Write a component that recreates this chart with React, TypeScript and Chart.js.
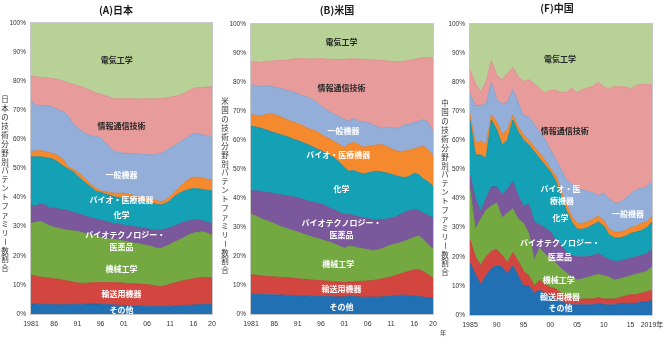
import React, { useEffect, useRef } from "react";
import { Chart, registerables } from "chart.js";
Chart.register(...registerables);

// Layers, bottom to top
const FIELDS = ["その他", "輸送用機器", "機械工学", "バイオテクノロジー・医薬品", "化学", "バイオ・医療機器", "一般機器", "情報通信技術", "電気工学"];
const FILLS = ["#2270b4", "#d2463f", "#74a942", "#7b589c", "#14a0b5", "#f5892e", "#93aed8", "#e79b9a", "#b7d196"];
const LINES = ["#1d5f9a", "#b83b35", "#64953a", "#6a4b88", "#10899b", "#e07820", "#7f9bc6", "#d98a89", "#8fb86b"];

// ---------- (A) Japan: cumulative upper boundary of each layer (%) ----------
const jpYears = [1981, 1982, 1983, 1984, 1985, 1986, 1987, 1988, 1989, 1990, 1991, 1992, 1993, 1994, 1995, 1996, 1997, 1998, 1999, 2000, 2001, 2002, 2003, 2004, 2005, 2006, 2007, 2008, 2009, 2010, 2011, 2012, 2013, 2014, 2015, 2016, 2017, 2018, 2019, 2020];
const jpOther = [3.4, 3.4, 3.3, 3.3, 3.3, 3.2, 3.2, 3.2, 3.2, 3.3, 3.3, 3.3, 3.4, 3.4, 3.4, 3.4, 3.3, 3.2, 3.1, 3.0, 2.9, 2.9, 2.8, 2.8, 2.7, 2.7, 2.7, 2.6, 2.6, 2.6, 2.7, 2.8, 2.9, 3.0, 3.0, 3.1, 3.2, 3.2, 3.3, 3.3];
const jpTransport = [13.4, 13.0, 12.7, 12.5, 12.3, 12.1, 11.9, 11.6, 11.3, 11.0, 10.7, 10.5, 10.6, 10.7, 10.8, 10.8, 10.8, 10.8, 10.8, 10.7, 10.6, 10.5, 10.4, 10.3, 10.2, 10.1, 9.9, 9.6, 9.4, 9.7, 10.3, 10.7, 11.1, 11.5, 11.8, 12.1, 12.4, 12.6, 12.5, 12.3];
const jpMechanical = [31.2, 31.5, 31.8, 31.2, 30.3, 29.8, 29.5, 29.0, 28.8, 28.6, 28.4, 28.0, 27.6, 27.2, 26.8, 26.4, 26.0, 25.8, 25.6, 25.4, 25.1, 24.8, 24.5, 24.2, 23.9, 23.6, 23.2, 22.7, 22.6, 23.2, 24.0, 24.8, 25.5, 26.3, 27.2, 27.8, 28.1, 28.3, 27.8, 27.1];
const jpPharma = [37.5, 37.0, 37.8, 37.5, 36.5, 36.5, 36.0, 35.8, 35.5, 35.0, 34.5, 34.0, 33.5, 33.0, 32.6, 32.3, 31.8, 31.4, 31.0, 30.8, 30.5, 30.3, 30.1, 29.8, 29.6, 29.3, 29.0, 28.7, 28.8, 29.2, 29.7, 30.3, 31.0, 31.6, 32.0, 32.3, 32.4, 32.0, 31.5, 31.0];
const jpChemistry = [54.0, 54.0, 54.0, 53.8, 53.5, 53.0, 52.0, 50.8, 49.8, 49.0, 47.5, 46.0, 44.8, 43.5, 42.2, 41.8, 41.2, 40.8, 40.3, 40.0, 39.8, 39.6, 39.5, 39.2, 38.9, 38.6, 38.2, 37.7, 37.5, 38.0, 39.0, 40.5, 41.5, 42.3, 42.8, 43.1, 43.0, 42.8, 42.5, 42.3];
const jpMedTech = [55.8, 56.0, 56.2, 55.8, 55.4, 55.0, 54.2, 53.0, 50.5, 49.8, 48.8, 47.5, 46.0, 44.5, 43.2, 42.4, 42.0, 41.7, 41.5, 41.5, 41.5, 41.2, 40.8, 40.4, 40.0, 39.6, 39.3, 39.0, 38.6, 39.2, 40.5, 42.0, 43.5, 45.0, 46.3, 47.0, 47.0, 46.7, 46.3, 45.9];
const jpGeneral = [73.5, 71.8, 71.6, 71.5, 71.5, 70.8, 70.0, 69.5, 68.0, 65.5, 64.0, 62.7, 61.8, 61.2, 61.0, 60.5, 59.0, 57.5, 55.8, 55.5, 55.2, 55.2, 55.0, 55.0, 54.8, 54.8, 54.6, 54.8, 55.2, 56.0, 57.0, 58.0, 59.0, 60.0, 61.0, 62.0, 62.0, 61.5, 61.2, 61.0];
const jpICT = [81.8, 81.5, 81.3, 81.2, 81.0, 80.8, 80.5, 80.0, 79.5, 79.0, 78.5, 78.0, 77.3, 76.7, 76.0, 75.5, 75.0, 74.5, 74.0, 74.0, 73.9, 74.0, 74.0, 73.8, 74.0, 74.0, 73.9, 74.0, 74.0, 74.2, 74.5, 74.8, 75.2, 75.8, 76.7, 77.5, 77.8, 77.8, 78.0, 78.0];
const jpElectrical = [100, 100, 100, 100, 100, 100, 100, 100, 100, 100, 100, 100, 100, 100, 100, 100, 100, 100, 100, 100, 100, 100, 100, 100, 100, 100, 100, 100, 100, 100, 100, 100, 100, 100, 100, 100, 100, 100, 100, 100];

// ---------- (B) United States ----------
const usYears = [1981, 1982, 1983, 1984, 1985, 1986, 1987, 1988, 1989, 1990, 1991, 1992, 1993, 1994, 1995, 1996, 1997, 1998, 1999, 2000, 2001, 2002, 2003, 2004, 2005, 2006, 2007, 2008, 2009, 2010, 2011, 2012, 2013, 2014, 2015, 2016, 2017, 2018, 2019, 2020];
const usOther = [6.8, 6.8, 6.7, 6.7, 6.6, 6.6, 6.6, 6.5, 6.5, 6.4, 6.3, 6.3, 6.2, 6.1, 6.1, 6.0, 6.0, 6.0, 5.9, 5.9, 5.9, 6.1, 6.0, 5.9, 5.8, 5.8, 5.8, 5.8, 5.9, 6.0, 6.1, 6.3, 6.5, 6.5, 6.3, 6.2, 6.0, 5.8, 5.6, 5.4];
const usTransport = [13.5, 13.4, 13.2, 13.0, 12.9, 12.8, 12.7, 12.6, 12.5, 12.3, 12.2, 12.0, 11.9, 11.7, 11.6, 11.5, 11.4, 11.3, 11.1, 11.0, 10.9, 11.0, 11.1, 11.2, 11.3, 11.4, 11.5, 11.8, 12.1, 12.4, 12.8, 13.3, 13.8, 14.3, 14.8, 15.2, 15.2, 14.6, 13.5, 12.4];
const usMechanical = [34.5, 33.8, 33.0, 32.4, 31.8, 31.2, 30.4, 29.8, 29.3, 28.8, 28.3, 27.7, 27.2, 26.6, 26.2, 25.7, 25.2, 24.7, 24.1, 23.4, 22.7, 23.4, 23.2, 22.8, 22.5, 22.2, 21.9, 22.1, 22.5, 23.2, 23.8, 24.2, 24.6, 25.2, 25.8, 26.5, 26.9, 25.5, 23.8, 22.4];
const usPharma = [42.4, 42.5, 42.3, 42.0, 41.8, 41.5, 41.2, 40.9, 40.6, 40.4, 40.1, 39.6, 39.1, 38.6, 38.3, 37.9, 37.3, 36.5, 35.8, 35.0, 34.3, 34.3, 34.0, 33.6, 33.1, 32.9, 32.6, 32.6, 32.6, 32.7, 33.0, 33.5, 34.3, 35.0, 35.7, 36.0, 35.6, 34.8, 34.0, 33.1];
const usChemistry = [64.7, 64.5, 64.1, 63.6, 63.0, 62.5, 62.0, 61.5, 61.0, 60.3, 59.8, 59.2, 58.5, 57.8, 57.0, 56.3, 55.5, 54.6, 53.6, 52.3, 50.5, 49.2, 49.5, 48.8, 48.3, 48.6, 49.0, 49.2, 49.0, 48.6, 48.2, 47.7, 47.3, 47.0, 47.5, 48.5, 48.0, 46.5, 45.5, 44.1];
const usMedTech = [68.7, 68.5, 68.2, 68.7, 69.0, 68.8, 68.2, 67.5, 66.8, 66.2, 65.7, 65.0, 64.1, 63.5, 63.0, 62.0, 61.0, 60.2, 59.3, 58.3, 57.5, 58.5, 59.2, 58.5, 57.5, 57.8, 58.0, 58.3, 58.4, 57.8, 57.0, 56.3, 56.0, 56.2, 56.5, 57.0, 57.5, 57.8, 56.5, 54.5];
const usGeneral = [79.0, 78.6, 78.5, 78.6, 78.7, 78.2, 77.9, 77.5, 77.0, 76.5, 76.0, 75.3, 74.8, 74.0, 73.2, 71.8, 70.5, 69.6, 68.8, 68.0, 67.0, 66.5, 67.5, 66.5, 66.2, 66.0, 65.4, 64.6, 64.0, 64.5, 64.2, 64.0, 64.5, 65.2, 65.5, 66.0, 66.5, 67.0, 66.0, 62.7];
const usICT = [86.8, 86.9, 86.7, 87.0, 87.1, 87.3, 87.5, 87.4, 87.6, 87.9, 88.0, 88.1, 88.0, 87.9, 88.0, 88.1, 87.9, 87.8, 87.8, 87.7, 87.8, 87.9, 88.0, 87.9, 87.8, 87.7, 87.6, 87.5, 87.4, 87.3, 87.1, 87.0, 87.0, 87.2, 87.5, 87.8, 88.1, 88.4, 88.5, 88.2];
const usElectrical = [100, 100, 100, 100, 100, 100, 100, 100, 100, 100, 100, 100, 100, 100, 100, 100, 100, 100, 100, 100, 100, 100, 100, 100, 100, 100, 100, 100, 100, 100, 100, 100, 100, 100, 100, 100, 100, 100, 100, 100];

// ---------- (F) China ----------
const cnYears = [1985, 1986, 1987, 1988, 1989, 1990, 1991, 1992, 1993, 1994, 1995, 1996, 1997, 1998, 1999, 2000, 2001, 2002, 2003, 2004, 2005, 2006, 2007, 2008, 2009, 2010, 2011, 2012, 2013, 2014, 2015, 2016, 2017, 2018, 2019];
const cnOther = [18, 14, 10.5, 13.5, 16, 17, 16.5, 14, 17, 13.5, 10, 10, 7.5, 8.5, 7.5, 6.5, 5.5, 4.5, 4, 3.5, 3.5, 3.5, 3.5, 3.5, 4, 3.5, 3.5, 3.5, 4, 4, 4, 4, 4.5, 4.5, 5];
const cnTransport = [26, 20, 17, 20, 22, 22.5, 20.5, 18, 21.5, 18.5, 15, 13.5, 10, 12, 10.5, 9.5, 9, 7.5, 6.5, 6, 5.5, 5.5, 5.5, 5.5, 6, 5.5, 5.5, 5.5, 6, 6.5, 7, 7, 7.5, 8, 8.5];
const cnMechanical = [43, 29.5, 33, 36, 37.5, 38.5, 33.5, 35, 36.5, 33, 31.5, 28, 19, 23, 21, 19.5, 18, 16, 14.5, 13, 12, 12.5, 13, 13.5, 14, 13.5, 13, 12, 12.5, 13, 13.5, 14, 14.5, 15, 16.5];
const cnPharma = [48, 40, 35.5, 40, 44, 44, 41.5, 43, 46, 41, 37.5, 38, 32, 31, 30, 28.5, 26, 24, 21.5, 20.5, 20, 20, 20, 20.5, 21, 20, 19, 18.5, 18.5, 19, 19.5, 20, 20.5, 21, 22.5];
const cnChemistry = [67, 55, 55, 53.8, 67, 63.6, 58.4, 60.1, 67, 63, 60.1, 58.4, 56.1, 53.8, 51.5, 49.3, 46, 41, 36, 32, 29.5, 29.5, 30, 31, 32, 30.5, 27.5, 26.5, 26.5, 27, 28, 28.5, 29, 30, 32];
const cnMedTech = [69, 59, 59.8, 58.5, 68.7, 66.4, 62, 63.6, 68.7, 64.7, 62, 60, 57.8, 55.6, 53.3, 50.4, 48, 43, 38, 34, 31.5, 31.5, 32, 33, 34, 32.5, 29.5, 28.5, 28.5, 29, 30, 30.5, 31.5, 32, 34];
const cnGeneral = [76, 72, 72, 72.5, 80, 74, 72.5, 73, 77.5, 73, 68.5, 68, 65.5, 63, 60.3, 56.8, 53.5, 50, 46.5, 45, 43.5, 43, 42.5, 42, 41, 42, 40, 38.5, 38.5, 40, 41.5, 43, 43.5, 44, 46];
const cnICT = [84.2, 79.6, 76.7, 80, 87.5, 82.5, 80.8, 83, 85.1, 81.9, 80.2, 80.9, 79.4, 77.9, 76.3, 77.2, 77.3, 76.5, 76.5, 78, 76.3, 77.5, 78, 78.6, 80, 78.4, 77.7, 78.6, 78.4, 78.4, 77.7, 78.9, 79.2, 79.2, 79.1];
const cnElectrical = [100, 100, 100, 100, 100, 100, 100, 100, 100, 100, 100, 100, 100, 100, 100, 100, 100, 100, 100, 100, 100, 100, 100, 100, 100, 100, 100, 100, 100, 100, 100, 100, 100, 100, 100];

// tick labels
const jpTickValues = [1981, 1986, 1991, 1996, 2001, 2006, 2011, 2016, 2020];
const jpTickLabels = ["1981", "86", "91", "96", "01", "06", "11", "16", "20"];
const cnTickValues = [1985, 1990, 1995, 2000, 2005, 2010, 2015, 2019];
const cnTickLabels = ["1985", "90", "95", "00", "05", "10", "15", "2019年"];

type Lbl = { t: string; x: number; y: number; dark?: boolean; size?: number };
interface PanelSpec {
  left: number; width: number; plotLeft: number; plotRight: number; plotTop: number; plotBottom: number;
  title: string; titleX: number; titleY: number;
  yTitle: string; yTitleX: number; yTitleCenter: number;
  years: number[]; tops: number[][]; tickValues: number[]; tickLabels: string[];
  labels: Lbl[]; extra?: { t: string; x: number; y: number }[];
}

const H = 337;
const CJK = '"Noto Sans CJK JP", "Noto Sans CJK SC", sans-serif';
const LAT = '"Liberation Sans", Arial, sans-serif';

const PANELS: PanelSpec[] = [
  {
    left: 0, width: 222, plotLeft: 31, plotRight: 212, plotTop: 23, plotBottom: 314,
    title: "(A)日本", titleX: 116, titleY: 10,
    yTitle: "日本の技術分野別パテントファミリー数割合", yTitleX: 5, yTitleCenter: 184,
    years: jpYears, tops: [jpOther, jpTransport, jpMechanical, jpPharma, jpChemistry, jpMedTech, jpGeneral, jpICT, jpElectrical],
    tickValues: jpTickValues, tickLabels: jpTickLabels,
    labels: [
      { t: "電気工学", x: 1999.5, y: 87.3, dark: true },
      { t: "情報通信技術", x: 2000.5, y: 64.6, dark: true },
      { t: "一般機器", x: 2000.5, y: 47.8 },
      { t: "バイオ・医療機器", x: 2000.5, y: 39.2 },
      { t: "化学", x: 2000.5, y: 34 },
      { t: "バイオテクノロジー・", x: 2001.3, y: 27.1 },
      { t: "医薬品", x: 2000.5, y: 22.9 },
      { t: "機械工学", x: 2000.5, y: 15.4 },
      { t: "輸送用機器", x: 2000.5, y: 6.8 },
      { t: "その他", x: 2000.5, y: 1.4 },
    ],
  },
  {
    left: 220, width: 230, plotLeft: 251, plotRight: 433, plotTop: 24, plotBottom: 314,
    title: "(B)米国", titleX: 337, titleY: 10,
    yTitle: "米国の技術分野別パテントファミリー数割合", yTitleX: 225, yTitleCenter: 186,
    years: usYears, tops: [usOther, usTransport, usMechanical, usPharma, usChemistry, usMedTech, usGeneral, usICT, usElectrical],
    tickValues: jpTickValues, tickLabels: jpTickLabels,
    labels: [
      { t: "電気工学", x: 2000.4, y: 93.7, dark: true },
      { t: "情報通信技術", x: 2000.4, y: 77.8, dark: true },
      { t: "一般機器", x: 2000.8, y: 63.2 },
      { t: "バイオ・医療機器", x: 1999.7, y: 54.8 },
      { t: "化学", x: 2000.4, y: 43.1 },
      { t: "バイオテクノロジー・", x: 2000.4, y: 31.5 },
      { t: "医薬品", x: 2000.4, y: 27.1 },
      { t: "機械工学", x: 1999.7, y: 17.1 },
      { t: "輸送用機器", x: 2000.4, y: 8.5 },
      { t: "その他", x: 2000.4, y: 2.5 },
    ],
    extra: [{ t: "年", x: 443, y: 333 }],
  },
  {
    left: 440, width: 231, plotLeft: 470, plotRight: 652, plotTop: 24, plotBottom: 315,
    title: "(F)中国", titleX: 557, titleY: 8,
    yTitle: "中国の技術分野別パテントファミリー数割合", yTitleX: 445, yTitleCenter: 188,
    years: cnYears, tops: [cnOther, cnTransport, cnMechanical, cnPharma, cnChemistry, cnMedTech, cnGeneral, cnICT, cnElectrical],
    tickValues: cnTickValues, tickLabels: cnTickLabels,
    labels: [
      { t: "電気工学", x: 2001.8, y: 88, dark: true },
      { t: "情報通信技術", x: 2002.7, y: 63.2, dark: true },
      { t: "バイオ・医", x: 2001.9, y: 43.2 },
      { t: "療機器", x: 2002.2, y: 39.2 },
      { t: "化学", x: 2001.9, y: 33.2 },
      { t: "一般機器", x: 2014.5, y: 34.7 },
      { t: "バイオテクノロジー・", x: 2001.8, y: 24.6 },
      { t: "医薬品", x: 2001.8, y: 20 },
      { t: "機械工学", x: 2001.6, y: 12 },
      { t: "輸送用機器", x: 2001.8, y: 6.3 },
      { t: "その他", x: 2001.9, y: 2.5 },
    ],
  },
];

function Panel({ spec }: { spec: PanelSpec }) {
  const ref = useRef<HTMLCanvasElement>(null);
  useEffect(() => {
    const s = spec;
    const datasets = s.tops.map((arr, i) => ({
      label: FIELDS[i],
      data: arr.map((v, j) => ({ x: s.years[j], y: v })),
      backgroundColor: FILLS[i],
      borderColor: LINES[i],
      borderWidth: i === s.tops.length - 1 ? 0 : 0.8,
      pointRadius: 0,
      tension: 0,
      fill: i === 0 ? "origin" : "-1",
    }));
    const decor = {
      id: "decor",
      afterDatasetsDraw(chart: any) {
        const ctx = chart.ctx;
        const xs = chart.scales.x;
        const ys = chart.scales.y;
        const a = chart.chartArea;
        ctx.save();
        ctx.strokeStyle = "#c8c8c8";
        ctx.lineWidth = 1;
        ctx.strokeRect(a.left - 0.5, a.top - 0.5, a.right - a.left + 1, a.bottom - a.top + 1);
        ctx.textAlign = "center";
        ctx.textBaseline = "middle";
        for (const l of s.labels) {
          ctx.font = `bold ${l.size ?? 8}px ${CJK}`;
          ctx.fillStyle = l.dark ? "#262626" : "#ffffff";
          ctx.fillText(l.t, xs.getPixelForValue(l.x), ys.getPixelForValue(l.y));
        }
        ctx.restore();
      },
      afterDraw(chart: any) {
        const ctx = chart.ctx;
        ctx.save();
        ctx.textAlign = "center";
        ctx.textBaseline = "middle";
        ctx.fillStyle = "#1a1a1a";
        ctx.font = `bold 10px ${CJK}`;
        ctx.fillText(s.title, s.titleX - s.left, s.titleY);
        ctx.fillStyle = "#333333";
        ctx.font = `7.5px ${CJK}`;
        const chars = Array.from(s.yTitle);
        const step = 8.9;
        const y0 = s.yTitleCenter - ((chars.length - 1) * step) / 2;
        chars.forEach((c, i) => {
          const x = s.yTitleX - s.left;
          const y = y0 + i * step;
          if (c === "ー") {
            ctx.save();
            ctx.translate(x, y);
            ctx.rotate(Math.PI / 2);
            ctx.fillText(c, 0, 0);
            ctx.restore();
          } else {
            ctx.fillText(c, x, y);
          }
        });
        if (s.extra) {
          ctx.font = `6px ${CJK}`;
          for (const e of s.extra) ctx.fillText(e.t, e.x - s.left, e.y);
        }
        ctx.restore();
      },
    };
    const chart = new Chart(ref.current as HTMLCanvasElement, {
      type: "line",
      data: { datasets: datasets as any },
      options: {
        animation: false,
        responsive: false,
        devicePixelRatio: 1,
        layout: { padding: { left: 0, right: s.left + s.width - s.plotRight, top: s.plotTop, bottom: 0 } },
        plugins: { legend: { display: false }, tooltip: { enabled: false }, title: { display: false } },
        scales: {
          x: {
            type: "linear",
            min: s.years[0],
            max: s.years[s.years.length - 1],
            grid: { display: false, drawTicks: false },
            border: { display: false },
            afterBuildTicks: (sc: any) => {
              sc.ticks = s.tickValues.map((v) => ({ value: v }));
            },
            afterFit: (sc: any) => {
              sc.height = H - s.plotBottom;
            },
            ticks: {
              autoSkip: false,
              maxRotation: 0,
              padding: 6,
              color: "#333",
              font: { size: 7, family: `${LAT}, ${CJK}` },
              callback: (v: any) => {
                const i = s.tickValues.indexOf(Number(v));
                return i >= 0 ? s.tickLabels[i] : "";
              },
            },
          },
          y: {
            min: 0,
            max: 100,
            grid: { display: false, drawTicks: false },
            border: { display: false },
            afterFit: (sc: any) => {
              sc.width = s.plotLeft - s.left;
            },
            ticks: {
              stepSize: 10,
              padding: 5,
              color: "#333",
              font: { size: 6.5, family: LAT },
              callback: (v: any) => `${v}%`,
            },
          },
        },
      } as any,
      plugins: [decor],
    });
    return () => chart.destroy();
  }, [spec]);
  return (
    <canvas
      ref={ref}
      width={spec.width}
      height={H}
      style={{ position: "absolute", left: spec.left, top: 0, width: spec.width, height: H }}
    />
  );
}

export default function App() {
  return (
    <div style={{ position: "fixed", left: 0, top: 0, width: 671, height: H, background: "#ffffff", overflow: "hidden" }}>
      {PANELS.map((p, i) => (
        <Panel key={i} spec={p} />
      ))}
    </div>
  );
}
